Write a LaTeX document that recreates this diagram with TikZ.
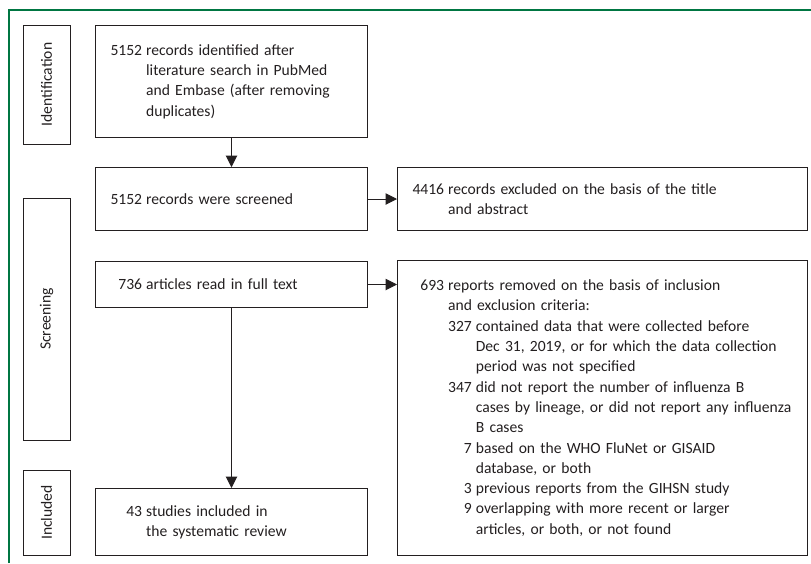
\documentclass[tikz,border=0pt]{standalone}
\usepackage{fontspec}
\setmainfont{Carlito}
\usetikzlibrary{arrows.meta}
\definecolor{framegreen}{RGB}{0,118,66}
\definecolor{ink}{RGB}{35,31,32}
\newcommand\NL[2]{\setbox0\hbox{5152}\makebox[\wd0][r]{#1}\hspace{4pt}#2}
\newcommand\CL[1]{\setbox0\hbox{5152}\hspace*{\dimexpr\wd0+4pt\relax}#1}
\newcommand\NN[2]{\setbox0\hbox{5152}\setbox2\hbox{347}\hspace*{\dimexpr\wd0+4pt\relax}\makebox[\wd2][r]{#1}\hspace{4pt}#2}
\newcommand\CC[1]{\setbox0\hbox{5152}\setbox2\hbox{347}\hspace*{\dimexpr\wd0+\wd2+8pt\relax}#1}
\tikzset{
  txt/.style={font=\fontsize{15.6}{20.3}\selectfont, text=ink},
  box/.style={txt, draw=ink, line width=1pt, anchor=north west, inner xsep=15pt, inner ysep=0pt, align=left},
  lbox/.style={box, minimum width=272pt, text width=242pt, minimum height=#1},
  rbox/.style={box, minimum width=410pt, text width=380pt, minimum height=#1},
  stage/.style={txt, draw=ink, line width=1pt, inner sep=0pt, rotate=90, minimum height=47pt, minimum width=#1},
  arr/.style={draw=ink, line width=1pt, -{Triangle[length=11.5pt,width=11.5pt]}}
}
\begin{document}
\begin{tikzpicture}[x=1pt,y=-1pt]
\useasboundingbox (0,0) rectangle (811,563);
\draw[framegreen, line width=1.2pt] (9,563) -- (9,10) -- (811,10);
% stage labels
\node[stage=119pt] (idS) at (46.5,84.5) {Identification};
\node[stage=242pt] (scrS) at (46.5,319) {Screening};
\node[stage=85pt] (incS) at (46.5,512.5) {Included};
% main boxes
\node[lbox=112pt] (B1) at (95,25) {\NL{5152}{records identified after}\\ \CL{literature search in PubMed}\\ \CL{and Embase (after removing}\\ \CL{duplicates)}};
\node[lbox=63pt] (B2) at (95,167) {\NL{5152}{records were screened}};
\node[lbox=46pt] (B3) at (95,261) {\NL{736}{articles read in full text}};
\node[lbox=67pt] (B4) at (95,488) {\NL{43}{studies included in}\\ \CL{the systematic review}};
\node[rbox=63pt] (A) at (397,167) {\NL{4416}{records excluded on the basis of the title}\\ \CL{and abstract}};
\node[rbox=295pt] (B) at (397,260) {\NL{693}{reports removed on the basis of inclusion}\\
\CL{and exclusion criteria:}\\
\NN{327}{contained data that were collected before}\\
\CC{Dec 31, 2019, or for which the data collection}\\
\CC{period was not specified}\\
\NN{347}{did not report the number of influenza B}\\
\CC{cases by lineage, or did not report any influenza}\\
\CC{B cases}\\
\NN{7}{based on the WHO FluNet or GISAID}\\
\CC{database, or both}\\
\NN{3}{previous reports from the GIHSN study}\\
\NN{9}{overlapping with more recent or larger}\\
\CC{articles, or both, or not found}};
% connectors
\draw[arr] (B1.south) -- (B2.north);
\draw[arr] (B2.east) -- (A.west);
\draw[arr] (B3.east) -- (B3.east -| B.west);
\draw[arr] (B3.south) -- (B4.north);
\end{tikzpicture}
\end{document}
